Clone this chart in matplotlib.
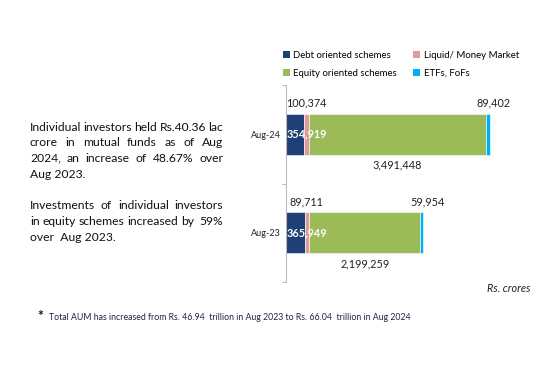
import re
import matplotlib.pyplot as plt
from matplotlib.patches import Patch

# data (Rs. crores)
categories = ['Aug-23', 'Aug-24']
debt = [365949, 354919]
liquid = [89711, 100374]
equity = [2199259, 3491448]
etf = [59954, 89402]

series_names = ['Debt oriented schemes', 'Liquid/ Money Market',
                'Equity oriented schemes', 'ETFs, FoFs']
colors = ['#1F3F78', '#E09A9A', '#9BBB59', '#00B0F0']

para1 = ["Individual investors held Rs.40.36 lac",
         "crore in mutual funds as of Aug",
         "2024, an increase of 48.67% over",
         "Aug 2023."]
para2 = ["Investments of individual investors",
         "in equity schemes increased by  59%",
         "over  Aug 2023."]
footnote = "Total AUM has increased from Rs. 46.94  trillion in Aug 2023 to Rs. 66.04  trillion in Aug 2024"

plt.rcParams['font.family'] = ['Lato', 'DejaVu Sans']
W, H = 550, 366
fig = plt.figure(figsize=(5.5, 3.66), dpi=100)

# chart area in pixels
ax = fig.add_axes([286 / W, 1 - 282 / H, 253 / W, 197 / H])
ax.set_xlim(0, 5000000)
ax.set_ylim(-0.5, 1.5)

y = list(range(len(categories)))
bh = 0.42
left = [0] * len(y)
for vals, c in zip([debt, liquid, equity, etf], colors):
    ax.barh(y, vals, left=left, height=bh, color=c, edgecolor='white', linewidth=0.4)
    left = [l + v for l, v in zip(left, vals)]

fmt = lambda v: f"{v:,}"
fs_lab = 7.8
for i in y:
    # debt, inside in white bold
    ax.text(20000, i, fmt(debt[i]), color='white', fontsize=fs_lab, fontweight='bold',
            va='center', ha='left')
    # liquid above
    xl = debt[i] + liquid[i] / 2
    ax.text(xl, i + bh / 2 + 0.05, fmt(liquid[i]), fontsize=fs_lab, ha='center', va='bottom',
            color='#222222')
    # equity below
    xe = debt[i] + liquid[i] + equity[i] / 2
    ax.text(xe, i - bh / 2 - 0.05, fmt(equity[i]), fontsize=fs_lab, ha='center', va='top',
            color='#222222')
    # etf above
    xt = debt[i] + liquid[i] + equity[i] + etf[i] / 2
    ax.text(xt + 120000, i + bh / 2 + 0.05, fmt(etf[i]), fontsize=fs_lab, ha='center',
            va='bottom', color='#222222')

for s in ['top', 'right', 'bottom']:
    ax.spines[s].set_visible(False)
ax.spines['left'].set_color('#BBBBBB')
ax.spines['left'].set_linewidth(0.8)
ax.set_xticks([])
ax.set_yticks(y)
ax.set_yticklabels(categories, fontsize=6.5, color='#222222')
ax.tick_params(axis='y', which='major', length=0, pad=4)
ax.set_yticks([-0.5, 0.5, 1.5], minor=True)
ax.tick_params(axis='y', which='minor', length=3, color='#BBBBBB', width=0.8)

# legend
order = [0, 2, 1, 3]
handles = [Patch(facecolor=colors[k], edgecolor='none') for k in order]
labels = [series_names[k] for k in order]
fig.legend(handles, labels, ncol=2, loc='upper left',
           bbox_to_anchor=(279 / W, 1 - 47 / H), frameon=False, fontsize=6.9,
           handlelength=0.7, handleheight=0.7, handletextpad=0.4,
           columnspacing=1.7, labelspacing=0.95, borderaxespad=0)

fig.text(487 / W, 1 - 288 / H, "Rs. crores", fontsize=7.8, style='italic',
         ha='left', va='center', color='#222222')

# justified left text, word by word
def justified(lines, y0, x0, x1, step, fs):
    r = fig.canvas.get_renderer()
    for n, line in enumerate(lines):
        yy = 1 - (y0 + n * step) / H
        if n == len(lines) - 1:
            fig.text(x0 / W, yy, line, fontsize=fs, ha='left', va='center', color='#111111')
            continue
        words = line.split()
        units = [len(s) for s in re.findall(r' +', line.strip())]
        ts = [fig.text(0, yy, w, fontsize=fs, ha='left', va='center', color='#111111')
              for w in words]
        widths = [t.get_window_extent(renderer=r).width for t in ts]
        gap = (x1 - x0 - sum(widths)) / sum(units)
        x = x0
        for k, (t, w) in enumerate(zip(ts, widths)):
            t.set_x(x / W)
            if k < len(units):
                x += w + gap * units[k]

justified(para1, 127, 30, 223, 15.7, 8.7)
justified(para2, 206, 30, 223, 15.7, 8.7)

fig.text(40 / W, 1 - 316 / H, "*", fontsize=10, fontweight='bold', ha='center',
         va='center', color='#111111')
fig.text(49 / W, 1 - 318 / H, footnote, fontsize=6.3, ha='left', va='center',
         color='#222244')

fig.savefig('out.png', dpi=100)
